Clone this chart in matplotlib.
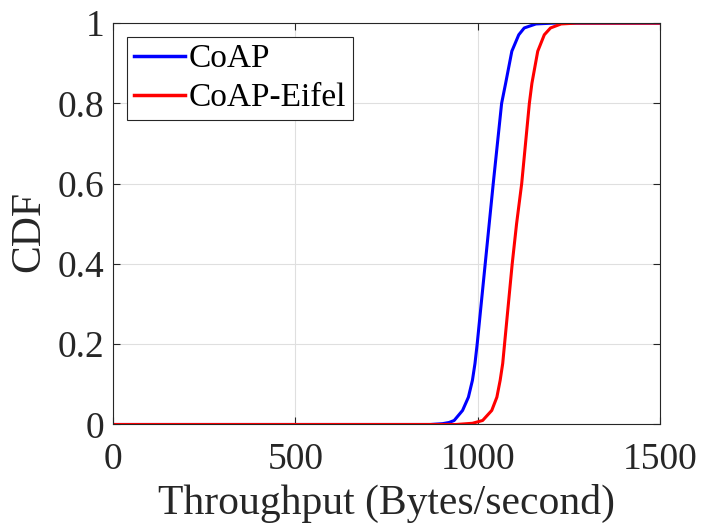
import numpy as np
import matplotlib
matplotlib.use('Agg')
import matplotlib.pyplot as plt

plt.rcParams['font.family'] = ['Liberation Serif', 'DejaVu Serif']
plt.rcParams['mathtext.fontset'] = 'stix'

# CDF of throughput
coap_x = [0, 870, 903, 921, 935, 958, 974, 985, 992, 998, 1020, 1031, 1042,
          1065, 1076, 1093, 1112, 1127, 1159, 1205, 1500]
coap_y = [0, 0, 0.002, 0.005, 0.01, 0.035, 0.068, 0.11, 0.152, 0.2, 0.4, 0.5,
          0.6, 0.8, 0.85, 0.93, 0.971, 0.988, 0.998, 1, 1]

eifel_x = [0, 940, 985, 1013, 1038, 1052, 1061, 1068, 1073, 1094, 1106, 1120,
           1141, 1148, 1164, 1182, 1199, 1228, 1269, 1500]
eifel_y = [0, 0, 0.003, 0.01, 0.035, 0.068, 0.11, 0.152, 0.2, 0.4, 0.5, 0.6,
           0.8, 0.85, 0.93, 0.971, 0.988, 0.998, 1, 1]

x_ticks = [0, 500, 1000, 1500]
y_ticks = [0, 0.2, 0.4, 0.6, 0.8, 1]
y_ticklabels = ['0', '0.2', '0.4', '0.6', '0.8', '1']

fig = plt.figure(figsize=(7.01, 5.26), dpi=100)
ax = fig.add_axes([0.1612, 0.193, 0.7808, 0.763])

ax.plot(coap_x, coap_y, color='#0000ff', lw=2.2, label='CoAP')
ax.plot(eifel_x, eifel_y, color='#ff0000', lw=2.2, label='CoAP-Eifel')

ax.set_xlim(0, 1500)
ax.set_ylim(0, 1)
ax.set_xticks(x_ticks)
ax.set_yticks(y_ticks)
ax.set_yticklabels(y_ticklabels)

ax.grid(True, color='#dfdfdf', lw=0.8)
ax.set_axisbelow(True)
for s in ax.spines.values():
    s.set_color('#262626')
    s.set_linewidth(0.8)
ax.tick_params(direction='in', length=5, width=0.8, top=True, right=True,
               labelsize=27, colors='#262626')
ax.tick_params(axis='x', pad=13)
ax.tick_params(axis='y', pad=6)

ax.set_xlabel('Throughput (Bytes/second)', fontsize=30, color='#262626', labelpad=5)
ax.set_ylabel('CDF', fontsize=30, color='#262626')
ax.yaxis.set_label_coords(-0.118, 0.48)

leg = ax.legend(loc='upper left', fontsize=24, frameon=True, fancybox=False,
                borderpad=0.2, handlelength=1.53, handletextpad=0.12,
                labelspacing=0.26, borderaxespad=0.42)
leg.get_frame().set_edgecolor('#262626')
leg.get_frame().set_linewidth(0.8)
leg.get_frame().set_alpha(1)
for line in leg.get_lines():
    line.set_linewidth(2.5)

fig.savefig('out.png', dpi=100)
